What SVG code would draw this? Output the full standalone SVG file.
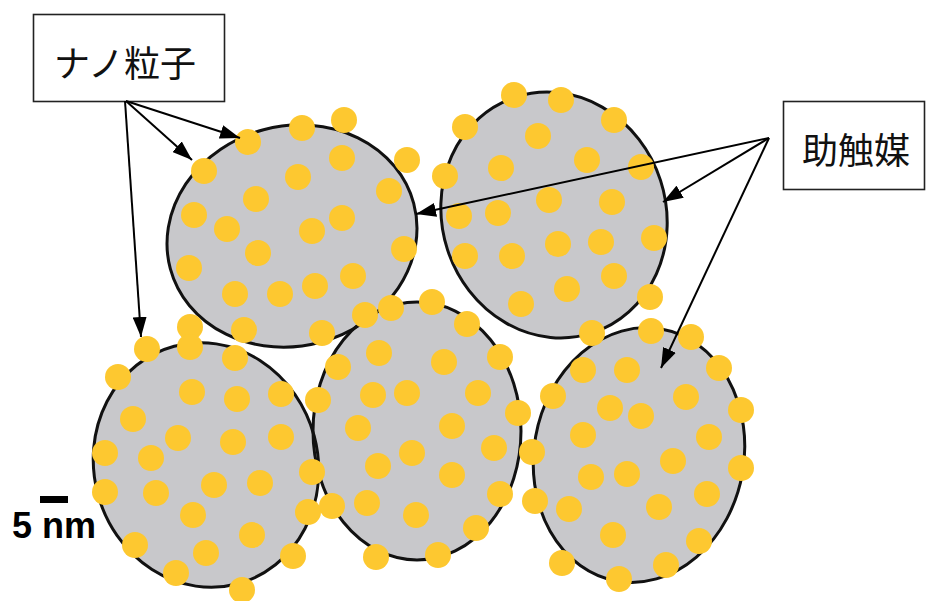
<svg xmlns="http://www.w3.org/2000/svg" width="928" height="601" viewBox="0 0 928 601">
  <style>
    .core { fill: #c8c8cb; stroke: none; }
    .rim { fill: none; stroke: #111; stroke-width: 3; }
    .np circle { fill: #fdc830; }
    .box { fill: #fff; stroke: #222; stroke-width: 1.6; }
    .lbl { font-family: "Noto Sans CJK JP", "Noto Sans", sans-serif; font-size: 36px; fill: #111; }
    .conn line { stroke: #000; stroke-width: 2; marker-end: url(#ah); }
    .scale { font-family: "Liberation Sans", Arial, sans-serif; font-weight: bold; font-size: 36px; fill: #000; }
  </style>
  <defs>
    <marker id="ah" viewBox="0 0 20 14" refX="20" refY="7" markerWidth="20" markerHeight="14" markerUnits="userSpaceOnUse" orient="auto">
      <path d="M0,0 L20,7 L0,14 z" fill="#000"/>
    </marker>
  </defs>

  <rect width="928" height="601" fill="#fff"/>

  <!-- support particle bodies (fills first, then outlines, so crossings stay visible) -->
  <g id="supports">
    <ellipse class="core" cx="292" cy="236" rx="126" ry="110" transform="rotate(-15 292 236)"/>
    <ellipse class="core" cx="554" cy="215" rx="112" ry="124" transform="rotate(-18 554 215)"/>
    <ellipse class="core" cx="206" cy="465" rx="112" ry="123" transform="rotate(-15 206 465)"/>
    <ellipse class="core" cx="417" cy="431" rx="104" ry="129"/>
    <ellipse class="core" cx="639" cy="455" rx="105" ry="128" transform="rotate(10 639 455)"/>
    <ellipse class="rim" cx="292" cy="236" rx="126" ry="110" transform="rotate(-15 292 236)"/>
    <ellipse class="rim" cx="554" cy="215" rx="112" ry="124" transform="rotate(-18 554 215)"/>
    <ellipse class="rim" cx="206" cy="465" rx="112" ry="123" transform="rotate(-15 206 465)"/>
    <ellipse class="rim" cx="417" cy="431" rx="104" ry="129"/>
    <ellipse class="rim" cx="639" cy="455" rx="105" ry="128" transform="rotate(10 639 455)"/>
  </g>

  <!-- nanoparticles on each support -->
  <g id="particle-1" class="np">
    <circle cx="248" cy="142" r="13"/><circle cx="302" cy="128" r="13"/><circle cx="344" cy="120" r="13"/>
    <circle cx="204" cy="171" r="13"/><circle cx="298" cy="177" r="13"/><circle cx="342" cy="158" r="13"/>
    <circle cx="407" cy="160" r="13"/><circle cx="256" cy="199" r="13"/><circle cx="389" cy="191" r="13"/>
    <circle cx="194" cy="215" r="13"/><circle cx="227" cy="229" r="13"/><circle cx="312" cy="231" r="13"/>
    <circle cx="342" cy="218" r="13"/><circle cx="258" cy="253" r="13"/><circle cx="404" cy="249" r="13"/>
    <circle cx="189" cy="268" r="13"/><circle cx="353" cy="276" r="13"/><circle cx="235" cy="294" r="13"/>
    <circle cx="280" cy="294" r="13"/><circle cx="315" cy="286" r="13"/><circle cx="244" cy="330" r="13"/>
    <circle cx="322" cy="333" r="13"/>
  </g>
  <g id="particle-2" class="np">
    <circle cx="514" cy="95" r="13"/><circle cx="561" cy="100" r="13"/><circle cx="614" cy="120" r="13"/>
    <circle cx="465" cy="127" r="13"/><circle cx="538" cy="136" r="13"/><circle cx="501" cy="168" r="13"/>
    <circle cx="587" cy="160" r="13"/><circle cx="641" cy="167" r="13"/><circle cx="445" cy="176" r="13"/>
    <circle cx="549" cy="200" r="13"/><circle cx="612" cy="202" r="13"/><circle cx="459" cy="216" r="13"/>
    <circle cx="498" cy="213" r="13"/><circle cx="558" cy="244" r="13"/><circle cx="601" cy="242" r="13"/>
    <circle cx="654" cy="238" r="13"/><circle cx="465" cy="256" r="13"/><circle cx="512" cy="256" r="13"/>
    <circle cx="614" cy="276" r="13"/><circle cx="567" cy="289" r="13"/><circle cx="650" cy="297" r="13"/>
    <circle cx="521" cy="304" r="13"/><circle cx="592" cy="333" r="13"/>
  </g>
  <g id="particle-3" class="np">
    <circle cx="190" cy="327" r="13"/><circle cx="190" cy="347" r="13"/><circle cx="147" cy="349" r="13"/>
    <circle cx="235" cy="358" r="13"/><circle cx="118" cy="377" r="13"/><circle cx="192" cy="392" r="13"/>
    <circle cx="237" cy="399" r="13"/><circle cx="281" cy="394" r="13"/><circle cx="133" cy="419" r="13"/>
    <circle cx="178" cy="438" r="13"/><circle cx="233" cy="442" r="13"/><circle cx="281" cy="437" r="13"/>
    <circle cx="105" cy="453" r="13"/><circle cx="151" cy="458" r="13"/><circle cx="312" cy="472" r="13"/>
    <circle cx="105" cy="492" r="13"/><circle cx="156" cy="493" r="13"/><circle cx="214" cy="485" r="13"/>
    <circle cx="260" cy="483" r="13"/><circle cx="193" cy="515" r="13"/><circle cx="308" cy="512" r="13"/>
    <circle cx="252" cy="535" r="13"/><circle cx="135" cy="545" r="13"/><circle cx="206" cy="553" r="13"/>
    <circle cx="293" cy="556" r="13"/><circle cx="176" cy="573" r="13"/><circle cx="242" cy="590" r="13"/>
  </g>
  <g id="particle-4" class="np">
    <circle cx="365" cy="315" r="13"/><circle cx="391" cy="308" r="13"/><circle cx="432" cy="302" r="13"/>
    <circle cx="467" cy="324" r="13"/><circle cx="379" cy="353" r="13"/><circle cx="444" cy="362" r="13"/>
    <circle cx="500" cy="357" r="13"/><circle cx="338" cy="367" r="13"/><circle cx="318" cy="400" r="13"/>
    <circle cx="373" cy="395" r="13"/><circle cx="407" cy="393" r="13"/><circle cx="478" cy="393" r="13"/>
    <circle cx="518" cy="413" r="13"/><circle cx="358" cy="428" r="13"/><circle cx="452" cy="426" r="13"/>
    <circle cx="412" cy="453" r="13"/><circle cx="494" cy="448" r="13"/><circle cx="378" cy="466" r="13"/>
    <circle cx="452" cy="475" r="13"/><circle cx="500" cy="494" r="13"/><circle cx="332" cy="506" r="13"/>
    <circle cx="367" cy="503" r="13"/><circle cx="416" cy="515" r="13"/><circle cx="476" cy="528" r="13"/>
    <circle cx="376" cy="557" r="13"/><circle cx="438" cy="555" r="13"/>
  </g>
  <g id="particle-5" class="np">
    <circle cx="651" cy="331" r="13"/><circle cx="691" cy="337" r="13"/><circle cx="583" cy="370" r="13"/>
    <circle cx="627" cy="370" r="13"/><circle cx="719" cy="368" r="13"/><circle cx="553" cy="396" r="13"/>
    <circle cx="610" cy="408" r="13"/><circle cx="686" cy="397" r="13"/><circle cx="641" cy="416" r="13"/>
    <circle cx="741" cy="410" r="13"/><circle cx="583" cy="435" r="13"/><circle cx="709" cy="437" r="13"/>
    <circle cx="532" cy="452" r="13"/><circle cx="673" cy="461" r="13"/><circle cx="591" cy="477" r="13"/>
    <circle cx="627" cy="474" r="13"/><circle cx="741" cy="468" r="13"/><circle cx="707" cy="494" r="13"/>
    <circle cx="535" cy="501" r="13"/><circle cx="569" cy="509" r="13"/><circle cx="659" cy="507" r="13"/>
    <circle cx="613" cy="535" r="13"/><circle cx="699" cy="541" r="13"/><circle cx="562" cy="563" r="13"/>
    <circle cx="666" cy="565" r="13"/><circle cx="619" cy="579" r="13"/>
  </g>

  <!-- callout labels -->
  <g id="label-nano">
    <rect class="box" x="33.5" y="14.5" width="191" height="87"/>
    <text class="lbl" x="125" y="77" text-anchor="middle">ナノ粒子</text>
  </g>
  <g id="label-promoter">
    <rect class="box" x="783.5" y="101.5" width="141" height="88"/>
    <text class="lbl" x="856" y="164" text-anchor="middle">助触媒</text>
  </g>

  <!-- scale bar -->
  <g id="scale-bar">
    <rect x="40" y="496" width="28" height="7" fill="#000"/>
    <text class="scale" x="12" y="538">5 nm</text>
  </g>

  <!-- leader arrows -->
  <g id="connectors" class="conn">
    <line x1="126" y1="101" x2="240" y2="138"/>
    <line x1="126" y1="101" x2="192" y2="160"/>
    <line x1="125" y1="101" x2="141" y2="337"/>
    <line x1="769" y1="138" x2="416" y2="214"/>
    <line x1="769" y1="138" x2="663" y2="202"/>
    <line x1="769" y1="138" x2="661" y2="368"/>
  </g>
</svg>
